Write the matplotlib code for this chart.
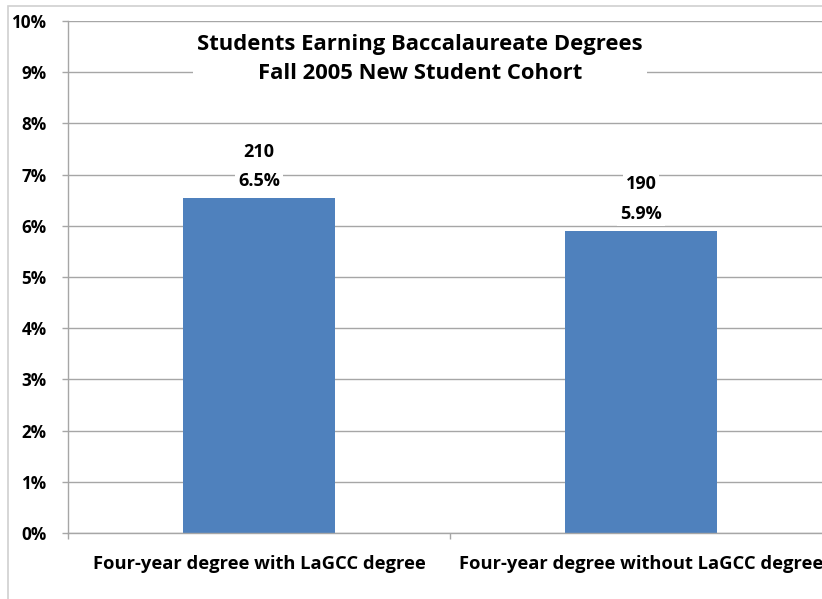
#!/usr/bin/env python

import matplotlib
matplotlib.use("Agg")
import matplotlib.pyplot as plt
from matplotlib.patches import Rectangle
from matplotlib.ticker import PercentFormatter

CATEGORIES = ["Four-year degree with LaGCC degree", "Four-year degree without LaGCC degree"]
PERCENTS = [6.54, 5.9]
COUNTS = [210, 190]
PCT_LABELS = ["6.5%", "5.9%"]
TITLE = "Students Earning Baccalaureate Degrees\nFall 2005 New Student Cohort"

BAR_COLOR = "#4F81BD"
GRID_COLOR = "#A6A6A6"
FONT = "Open Sans"

W, H = 822, 599


def main():
    fig = plt.figure(figsize=(W / 100, H / 100), dpi=100)

    # outer chart-area frame (only top and left edges visible)
    fig.add_artist(Rectangle((8 / W, -0.1), 1.2, 1.1 - 6 / H, transform=fig.transFigure,
                             fill=False, edgecolor="#D0D0D0", linewidth=1.2))
    # bit of text from above the crop
    fig.text(17 / W, 1 + 9 / H, "g", fontsize=15, fontweight="bold", family=FONT,
             ha="center", va="baseline")

    left, right, top, bottom = 68, 832, 21, 533
    ax = fig.add_axes([left / W, (H - bottom) / H, (right - left) / W, (bottom - top) / H])

    x = list(range(len(CATEGORIES)))
    ax.bar(x, PERCENTS, width=0.4, color=BAR_COLOR, zorder=2)

    ax.set_xlim(-0.5, len(CATEGORIES) - 0.5)
    ax.set_ylim(0, 10)
    ax.set_yticks(range(0, 11))
    ax.yaxis.set_major_formatter(PercentFormatter(decimals=0))
    ax.yaxis.grid(True, color=GRID_COLOR, linewidth=1)
    ax.set_axisbelow(True)

    ax.set_xticks([-0.5, 0.5, 1.5])
    ax.set_xticklabels([])
    ax.set_xticks(x, minor=True)
    ax.set_xticklabels(CATEGORIES, minor=True)
    ax.tick_params(axis="x", which="minor", length=0, pad=16)
    ax.tick_params(axis="x", which="major", length=4.5, color=GRID_COLOR, width=1)
    ax.tick_params(axis="y", length=4.5, color=GRID_COLOR, width=1, pad=11)

    for lab in ax.get_xticklabels(minor=True):
        lab.set_fontfamily(FONT)
        lab.set_fontweight("bold")
        lab.set_fontsize(13.2)
    for lab in ax.get_yticklabels():
        lab.set_fontfamily(FONT)
        lab.set_fontweight("bold")
        lab.set_fontsize(12.3)

    for s in ["top", "right"]:
        ax.spines[s].set_visible(False)
    for s in ["left", "bottom"]:
        ax.spines[s].set_color(GRID_COLOR)
        ax.spines[s].set_linewidth(1)

    box = dict(facecolor="white", edgecolor="none", pad=2)
    for xi, p, n, pl in zip(x, PERCENTS, COUNTS, PCT_LABELS):
        ax.annotate(pl, (xi, p), xytext=(0, 12), textcoords="offset points",
                    ha="center", va="center", fontsize=13, fontweight="bold",
                    family=FONT, bbox=box, zorder=3)
        ax.annotate(str(n), (xi, p), xytext=(0, 33.5), textcoords="offset points",
                    ha="center", va="center", fontsize=13, fontweight="bold",
                    family=FONT, bbox=box, zorder=3)

    fig.text(420 / W, 1 - 59 / H, TITLE, ha="center", va="center", fontsize=15.8,
             fontweight="bold", family=FONT, linespacing=1.55,
             bbox=dict(facecolor="white", edgecolor="none", pad=3))

    fig.savefig("out.png", dpi=100)
    plt.close(fig)


if __name__ == "__main__":
    main()
